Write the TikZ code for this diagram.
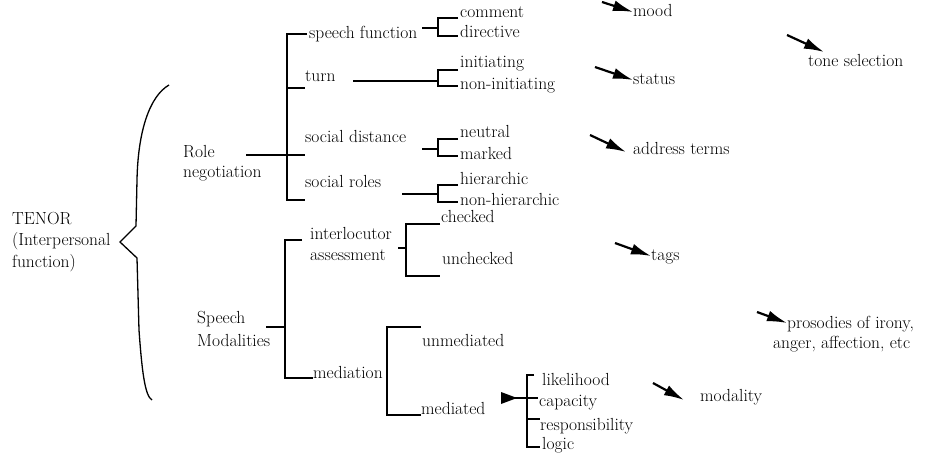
\documentclass[tikz,border=0pt]{standalone}
\usetikzlibrary{arrows.meta}
\tikzset{
	lbl/.style={anchor=west, inner sep=0pt, text height=12pt, text depth=2pt},
	brk/.style={line width=1.3pt},
	pointer/.style={line width=2.2pt, -{Latex[length=20pt,width=11pt]}},
}

\begin{document}
\begin{tikzpicture}[x=1pt, y=-1pt, every node/.style={font=\fontsize{17.5}{21.5}\selectfont}]
		
		\useasboundingbox (0,0) rectangle (948,457);
		
		\draw[brk] (169,85) .. controls (150,96) and (138,130) .. (137,180) -- (136,226) -- (120,242) -- (137,258) -- (139,330) .. controls (142,372) and (145,396) .. (152,400);
		\node[anchor=north west, inner sep=0pt, align=left] (tenor) at (12,212) {TENOR\\(Interpersonal\\function)};
		
		\begin{scope}
		\node[lbl] (role) at (183,153) {Role};
		\node[lbl] (nego) at (183,173) {negotiation};
		\draw[brk] (307,34) -| (287,200) -- (305,200);
		\draw[brk] (287,88) -- (305,88);
		\draw[brk] (246,155) -- (305,155);
		\node[lbl] (sfun) at (309,34) {speech function};
		\node[lbl] (turn) at (305,77) {turn};
		\node[lbl] (sdist) at (305,138) {social distance};
		\node[lbl] (sroles) at (305,183) {social roles};
		
		\draw[brk] (422,28) -- (438,28);
		\draw[brk] (458,18) -| (438,36) -- (458,36);
		\node[lbl] (comment) at (460,13) {comment};
		\node[lbl] (directive) at (460,33) {directive};
		
		\draw[brk] (353,81) -- (438,81);
		\draw[brk] (458,70) -| (438,86) -- (458,86);
		\node[lbl] (init) at (460,63) {initiating};
		\node[lbl] (noninit) at (460,85) {non-initiating};
		
		\draw[brk] (422,149) -- (438,149);
		\draw[brk] (458,139) -| (438,156) -- (458,156);
		\node[lbl] (neutral) at (460,133) {neutral};
		\node[lbl] (marked) at (460,155) {marked};
		
		\draw[brk] (402,194) -- (438,194);
		\draw[brk] (458,185) -| (438,202) -- (458,202);
		\node[lbl] (hier) at (460,180) {hierarchic};
		\node[lbl] (nonhier) at (460,201) {non-hierarchic};
		\end{scope}
		
		\begin{scope}
		\node[lbl] (speech) at (197,318) {Speech};
		\node[lbl] (modal) at (197,341) {Modalities};
		\draw[brk] (302,240) -| (285,378) -- (313,378);
		\draw[brk] (266,327) -- (285,327);
		
		\node[lbl] (interl) at (310,235) {interlocutor};
		\node[lbl] (assess) at (310,256) {assessment};
		\draw[brk] (398,248) -- (406,248);
		\draw[brk] (440,224) -| (406,276) -- (440,276);
		\node[lbl] (checked) at (441,218) {checked};
		\node[lbl] (unchecked) at (442,260) {unchecked};
		
		\node[lbl] (mediation) at (313,373) {mediation};
		\draw[brk] (421,327) -| (387,415) -- (421,415);
		\node[lbl] (unmed) at (422,341) {unmediated};
		\node[lbl] (med) at (421,409) {mediated};
		
		\fill (501,392) -- (517,398) -- (501,404) -- cycle;
		\draw[brk] (501,398) -- (527,398);
		\draw[brk] (534,375) -| (527,447) -- (540,447);
		\draw[brk] (527,398) -- (538,398);
		\draw[brk] (527,419) -- (540,419);
		\node[lbl] (likely) at (542,380) {likelihood};
		\node[lbl] (capac) at (539,401) {capacity};
		\node[lbl] (resp) at (540,425) {responsibility};
		\node[lbl] (logic) at (542,444) {logic};
		\end{scope}
		
		\node[lbl] (mood) at (633,12) {mood};
		\node[lbl] (status) at (633,80) {status};
		\node[lbl] (address) at (633,150) {address terms};
		\node[lbl] (tone) at (808,62) {tone selection};
		\node[lbl] (tags) at (651,256) {tags};
		\node[lbl] (pros) at (787,323) {prosodies of irony,};
		\node[lbl] (anger) at (773,343) {anger, affection, etc};
		\node[lbl] (modality) at (700,396) {modality};
		
		\coordinate (moodtail) at (602,2);
		\coordinate (statustail) at (595,67);
		\coordinate (addresstail) at (590,135);
		\coordinate (addresshead) at (626,152);
		\coordinate (tonetail) at (787,35);
		\coordinate (tonehead) at (824,52);
		\coordinate (tagstail) at (615,243);
		\coordinate (prostail) at (757,312);
		\coordinate (modalitytail) at (653,383);
		\coordinate (modalityhead) at (684,400);
		
		\draw[pointer] (moodtail) -- (mood.west);
		\draw[pointer] (statustail) -- (status.west);
		\draw[pointer] (addresstail) -- (addresshead);
		\draw[pointer] (tonetail) -- (tonehead);
		\draw[pointer] (tagstail) -- (tags.west);
		\draw[pointer] (prostail) -- (pros.west);
		\draw[pointer] (modalitytail) -- (modalityhead);
		
\end{tikzpicture}
\end{document}
